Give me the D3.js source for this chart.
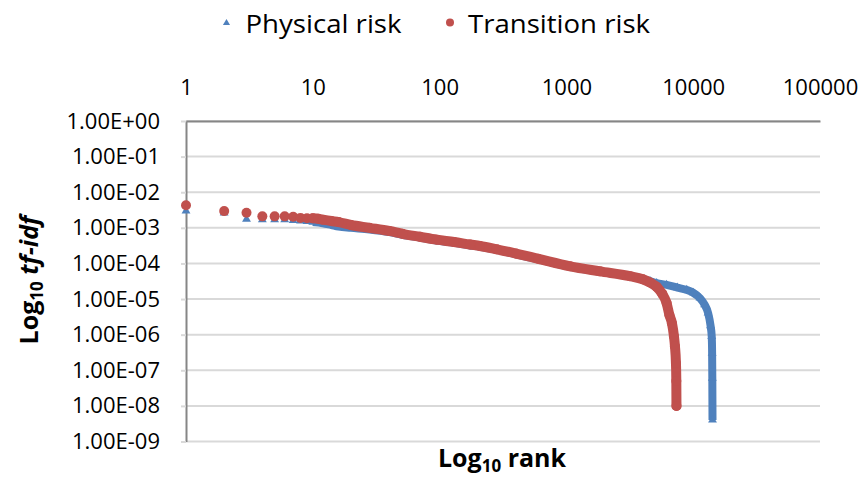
<!DOCTYPE html>
<html>
<head>
<meta charset="utf-8">
<script src="https://cdn.jsdelivr.net/npm/d3@7"></script>
<style>
  body { margin: 0; background: #fff; }
  text { font-family: "Open Sans", sans-serif; fill: #000; }
</style>
</head>
<body>
<div id="vis"></div>
<script>
// values (rank vs tf-idf)
const physicalRank = [1, 2, 3, 4, 5, 6, 7, 8, 9, 10, 12, 14, 16, 20, 28, 40, 51, 70, 95, 130, 174, 208, 282, 400, 600, 1070, 1840, 3170, 4570, 5150, 6170, 7500, 8900, 10000, 11300, 12300, 13100, 13700, 14000, 14100, 14150, 14200];
const physicalValue = [3.0e-3, 2.6e-3, 1.75e-3, 1.68e-3, 1.68e-3, 1.68e-3, 1.6e-3, 1.55e-3, 1.5e-3, 1.45e-3, 1.35e-3, 1.2e-3, 1.08e-3, 1.0e-3, 9.0e-4, 7.6e-4, 6.4e-4, 5.3e-4, 4.4e-4, 3.8e-4, 3.2e-4, 2.95e-4, 2.4e-4, 1.8e-4, 1.3e-4, 8.0e-5, 5.8e-5, 4.3e-5, 3.2e-5, 2.8e-5, 2.5e-5, 2.1e-5, 1.8e-5, 1.5e-5, 1.07e-5, 7e-6, 4.1e-6, 1.8e-6, 8.9e-7, 3e-7, 6e-8, 4e-9];

const transitionRank = [1, 2, 3, 4, 5, 6, 7, 8, 9, 10, 11, 12, 14, 16, 20, 28, 40, 51, 70, 95, 130, 174, 208, 282, 400, 600, 1070, 1840, 3170, 4000, 4570, 5150, 5700, 6170, 6500, 6800, 7050, 7180, 7310, 7360, 7380];
const transitionValue = [4.3e-3, 2.95e-3, 2.65e-3, 2.1e-3, 2.1e-3, 2.1e-3, 2.05e-3, 1.9e-3, 1.85e-3, 1.85e-3, 1.8e-3, 1.7e-3, 1.55e-3, 1.45e-3, 1.2e-3, 1.0e-3, 8.2e-4, 6.8e-4, 5.6e-4, 4.65e-4, 4.0e-4, 3.4e-4, 3.1e-4, 2.5e-4, 1.9e-4, 1.35e-4, 8.3e-5, 6.0e-5, 4.4e-5, 3.6e-5, 2.9e-5, 2.2e-5, 1.4e-5, 7.7e-6, 3.5e-6, 2.1e-6, 9e-7, 4.7e-7, 1.6e-7, 5e-8, 1.0e-8];

const xTicks = [1, 10, 100, 1000, 10000, 100000];
const yTicks = [1, 1e-1, 1e-2, 1e-3, 1e-4, 1e-5, 1e-6, 1e-7, 1e-8, 1e-9];
const seriesNames = ["Physical risk", "Transition risk"];

const FRAME_WIDTH = 859;
const FRAME_HEIGHT = 477;
const PLOT = {left: 186, right: 820, top: 121, bottom: 441.5};
const BLUE = "#4f81bd";
const RED = "#c0504d";

const svg = d3.select("#vis")
    .append("svg")
    .attr("width", FRAME_WIDTH)
    .attr("height", FRAME_HEIGHT);

const X_SCALE = d3.scaleLog()
    .domain([1, 100000])
    .range([PLOT.left, PLOT.right]);

const Y_SCALE = d3.scaleLog()
    .domain([1e-9, 1])
    .range([PLOT.bottom, PLOT.top]);

const sciFormat = (d) => {
    const e = Math.round(Math.log10(d));
    return "1.00E" + (e < 0 ? "-" : "+") + String(Math.abs(e)).padStart(2, "0");
};

// gridlines
svg.append("g")
    .selectAll("line")
    .data(yTicks)
    .enter()
    .append("line")
        .attr("x1", PLOT.left)
        .attr("x2", PLOT.right)
        .attr("y1", (d) => Y_SCALE(d))
        .attr("y2", (d) => Y_SCALE(d))
        .attr("stroke", "#d9d9d9")
        .attr("stroke-width", 2);

// left axis
const yAxis = svg.append("g")
    .attr("transform", "translate(" + PLOT.left + ",0)")
    .call(d3.axisLeft(Y_SCALE).tickValues(yTicks).tickFormat(sciFormat)
        .tickSize(5).tickSizeOuter(0).tickPadding(21));
yAxis.select(".domain").attr("stroke", "#868686").attr("stroke-width", 2);
yAxis.selectAll(".tick line").attr("stroke", "#d9d9d9").attr("stroke-width", 2);
yAxis.selectAll(".tick text")
    .attr("font-size", "22px")
    .attr("font-family", "Open Sans")
    .attr("fill", "#000");

// top axis
const xAxis = svg.append("g")
    .attr("transform", "translate(0," + PLOT.top + ")")
    .call(d3.axisTop(X_SCALE).tickValues(xTicks).tickFormat(d3.format("d"))
        .tickSize(0).tickSizeOuter(0).tickPadding(26));
xAxis.select(".domain").attr("stroke", "#868686").attr("stroke-width", 2);
xAxis.selectAll(".tick text")
    .attr("font-size", "22px")
    .attr("font-family", "Open Sans")
    .attr("fill", "#000");

const physical = physicalRank.map((r, i) => ({r: r, v: physicalValue[i]}));
const transition = transitionRank.map((r, i) => ({r: r, v: transitionValue[i]}));

const line = d3.line()
    .x((d) => X_SCALE(d.r))
    .y((d) => Y_SCALE(d.v))
    .curve(d3.curveMonotoneX);

const triangle = d3.symbol().type(d3.symbolTriangle).size(34);

// physical risk: dense band + markers
svg.append("path")
    .datum(physical.filter((d) => d.r >= 10))
    .attr("d", line)
    .attr("fill", "none")
    .attr("stroke", BLUE)
    .attr("stroke-width", 8)
    .attr("stroke-linejoin", "round");

svg.selectAll(".phys")
    .data(physical)
    .enter()
    .append("path")
        .attr("class", "phys")
        .attr("d", triangle)
        .attr("transform", (d) => "translate(" + X_SCALE(d.r) + "," + Y_SCALE(d.v) + ")")
        .attr("fill", BLUE);

// transition risk: dense band + markers
svg.append("path")
    .datum(transition.filter((d) => d.r >= 10))
    .attr("d", line)
    .attr("fill", "none")
    .attr("stroke", RED)
    .attr("stroke-width", 10)
    .attr("stroke-linecap", "round")
    .attr("stroke-linejoin", "round");

svg.selectAll(".trans")
    .data(transition)
    .enter()
    .append("circle")
        .attr("class", "trans")
        .attr("cx", (d) => X_SCALE(d.r))
        .attr("cy", (d) => Y_SCALE(d.v))
        .attr("r", 5)
        .attr("fill", RED);

// legend
svg.append("path")
    .attr("d", d3.symbol().type(d3.symbolTriangle).size(22))
    .attr("transform", "translate(226.5,23)")
    .attr("fill", BLUE);
svg.append("text")
    .attr("x", 245.5)
    .attr("y", 32.5)
    .attr("font-size", "25px")
    .attr("textLength", 156)
    .attr("lengthAdjust", "spacingAndGlyphs")
    .text(seriesNames[0]);
svg.append("circle")
    .attr("cx", 450)
    .attr("cy", 22.5)
    .attr("r", 4)
    .attr("fill", RED);
svg.append("text")
    .attr("x", 468)
    .attr("y", 32.5)
    .attr("font-size", "25px")
    .attr("textLength", 182)
    .attr("lengthAdjust", "spacingAndGlyphs")
    .text(seriesNames[1]);

// axis titles
const xTitle = svg.append("text")
    .attr("x", 502)
    .attr("y", 467)
    .attr("text-anchor", "middle")
    .attr("font-size", "25px")
    .attr("font-weight", "bold");
xTitle.append("tspan").text("Log");
xTitle.append("tspan").attr("font-size", "17px").attr("dy", 5).text("10");
xTitle.append("tspan").attr("dy", -5).text(" rank");

const yTitle = svg.append("text")
    .attr("transform", "translate(38,280) rotate(-90)")
    .attr("text-anchor", "middle")
    .attr("font-size", "25px")
    .attr("font-weight", "bold");
yTitle.append("tspan").text("Log");
yTitle.append("tspan").attr("font-size", "17px").attr("dy", 5).text("10");
yTitle.append("tspan").attr("dy", -5).text(" ");
yTitle.append("tspan").attr("font-style", "italic").text("tf-idf");
</script>
</body>
</html>
